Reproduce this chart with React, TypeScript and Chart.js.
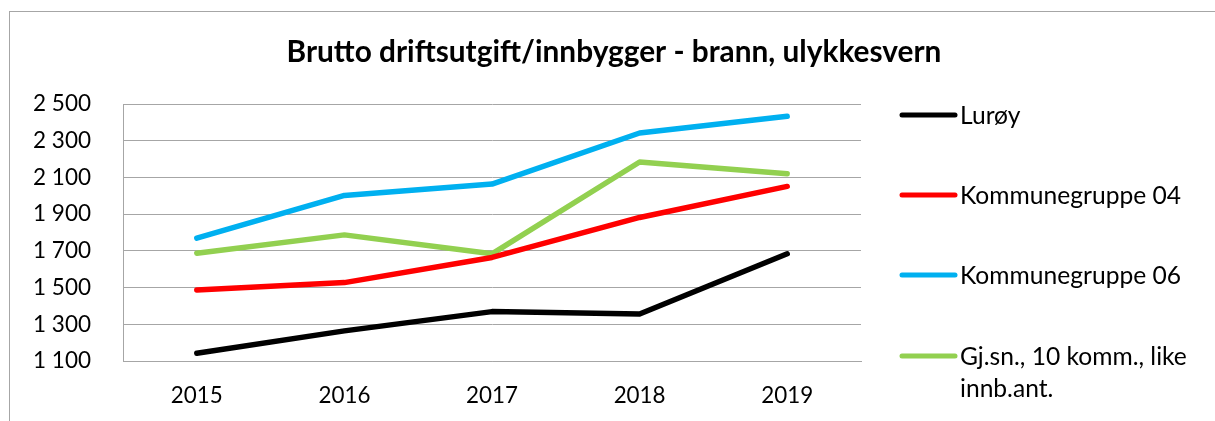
import React, { useEffect, useRef } from "react";
import { Chart, registerables } from "chart.js";

Chart.register(...registerables);

const TITLE = "Brutto driftsutgift/innbygger - brann, ulykkesvern";
const categories = ["2015", "2016", "2017", "2018", "2019"];
const seriesNames = ["Lurøy", "Kommunegruppe 04", "Kommunegruppe 06", "Gj.sn., 10 komm., like innb.ant."];
const legendLines = [["Lurøy"], ["Kommunegruppe 04"], ["Kommunegruppe 06"], ["Gj.sn., 10 komm., like", "innb.ant."]];
const seriesColors = ["#000000", "#FF0000", "#00B0F0", "#92D050"];
const luroy = [1142, 1264, 1369, 1356, 1684];
const kg04 = [1487, 1527, 1664, 1882, 2051];
const kg06 = [1769, 2002, 2064, 2342, 2433];
const gjsn = [1687, 1787, 1684, 2184, 2120];
const yMin = 1100;
const yMax = 2500;
const yStep = 200;

const FONT = "Lato, sans-serif";

const fmt = (v: number) => {
  const s = Math.round(v).toString();
  return s.replace(/\B(?=(\d{3})+(?!\d))/g, " ");
};

const decorPlugin = {
  id: "decor",
  afterDraw(chart: any) {
    const ctx = chart.ctx;
    ctx.save();
    ctx.fillStyle = "#000";
    ctx.font = `bold 29.8px ${FONT}`;
    ctx.textAlign = "center";
    ctx.textBaseline = "alphabetic";
    ctx.fillText(TITLE, 614, 62);

    const rows = [115, 195, 275, 356];
    ctx.font = `24.6px ${FONT}`;
    ctx.textAlign = "left";
    chart.data.datasets.forEach((ds: any, i: number) => {
      const y = rows[i];
      ctx.strokeStyle = ds.borderColor;
      ctx.lineWidth = 5;
      ctx.lineCap = "round";
      ctx.beginPath();
      ctx.moveTo(902, y);
      ctx.lineTo(955, y);
      ctx.stroke();
      ctx.fillStyle = "#000";
      legendLines[i].forEach((t, j) => ctx.fillText(t, 960, y + 8.5 + j * 32.7));
    });
    ctx.restore();
  },
};

export default function App() {
  const ref = useRef<HTMLCanvasElement>(null);
  useEffect(() => {
    document.documentElement.style.overflow = "hidden";
    const data = [luroy, kg04, kg06, gjsn];
    const chart = new Chart(ref.current!, {
      type: "line",
      data: {
        labels: categories,
        datasets: seriesNames.map((n, i) => ({
          label: n,
          data: data[i],
          borderColor: seriesColors[i],
          backgroundColor: seriesColors[i],
          borderWidth: 5.5,
          pointRadius: 0,
          borderCapStyle: "round",
          borderJoinStyle: "round",
          tension: 0,
        })),
      },
      options: {
        animation: false,
        responsive: false,
        devicePixelRatio: 1,
        layout: { padding: { left: 0, right: 354, top: 104, bottom: 0 } },
        plugins: { legend: { display: false }, title: { display: false }, tooltip: { enabled: false } },
        scales: {
          x: {
            type: "category",
            offset: true,
            grid: { display: false, drawTicks: false },
            border: { display: true, color: "#A6A6A6", width: 1 },
            ticks: { color: "#000", font: { family: FONT, size: 22.4 }, padding: 21, maxRotation: 0 },
            afterFit: (s: any) => { s.height = 60; },
          },
          y: {
            min: yMin,
            max: yMax,
            grid: { color: "#A6A6A6", drawTicks: false, lineWidth: 1 },
            border: { display: true, color: "#A6A6A6", width: 1 },
            ticks: { stepSize: yStep, color: "#000", font: { family: FONT, size: 22.5 }, padding: 32, callback: (v: any) => fmt(Number(v)) },
            afterFit: (s: any) => { s.width = 123; },
          },
        },
      },
      plugins: [decorPlugin],
    } as any);
    return () => chart.destroy();
  }, []);
  return (
    <>
      <div style={{ position: "fixed", left: 9, top: 11, width: 1400, height: 600, border: "1px solid #A6A6A6", background: "#fff" }} />
      <canvas ref={ref} width={1215} height={421} style={{ position: "fixed", left: 0, top: 0, width: 1215, height: 421 }} />
    </>
  );
}
